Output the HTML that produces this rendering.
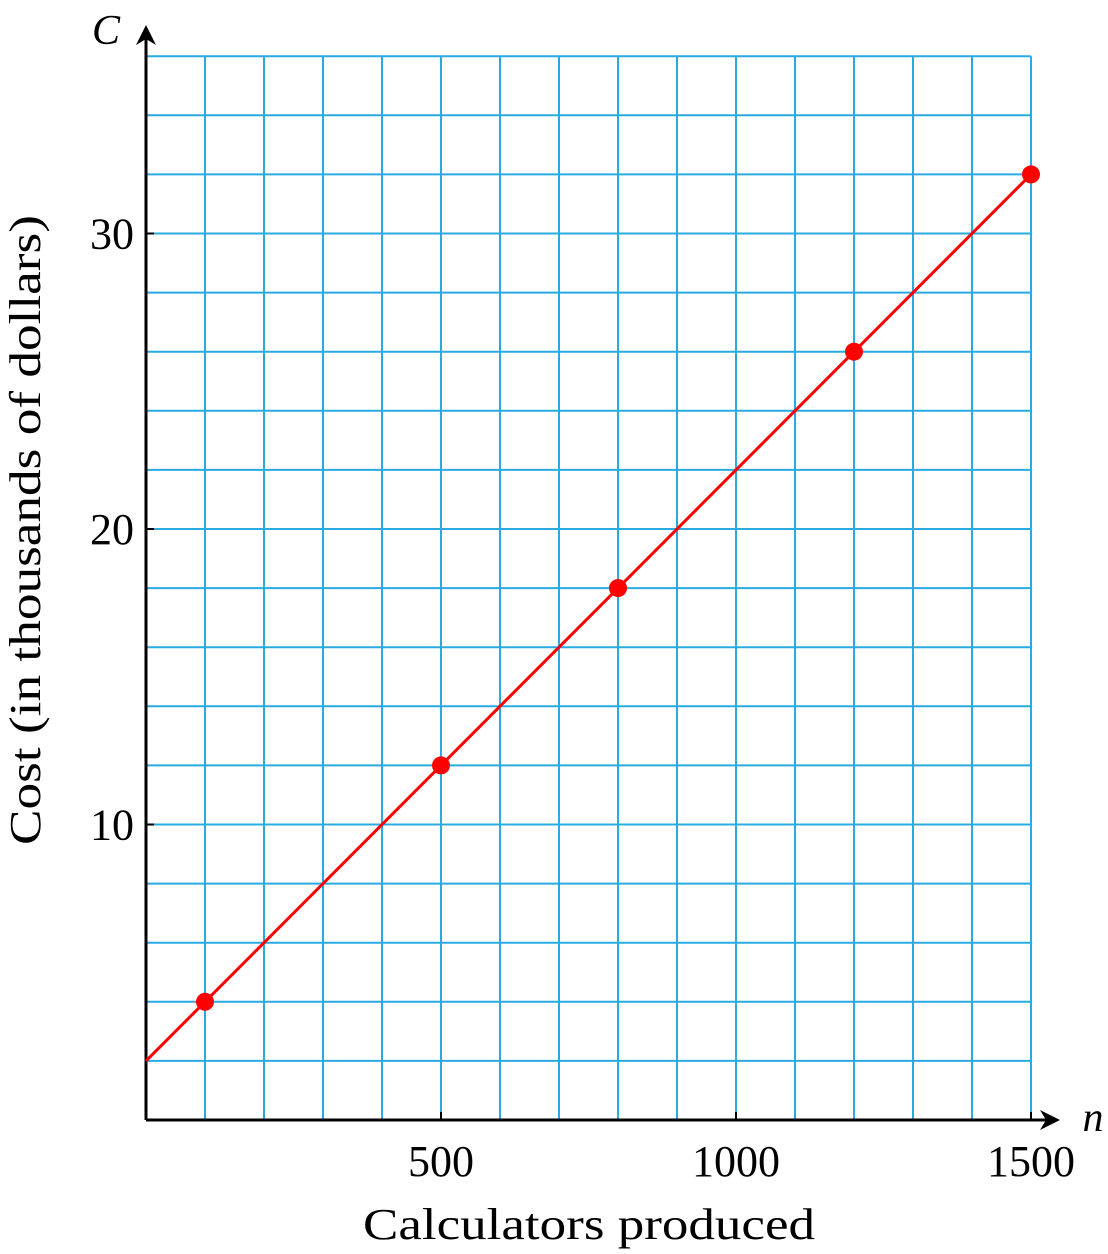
<!DOCTYPE html>
<html><head><meta charset="utf-8"><style>
html,body{margin:0;padding:0;background:#fff;}
svg{display:block;font-family:"Liberation Serif",serif;}
</style></head><body>
<svg id="chart" width="1108" height="1254" viewBox="0 0 1108 1254" xmlns="http://www.w3.org/2000/svg">
<g id="grid"></g>
<g id="axes">
<line x1="146" y1="1120" x2="1055" y2="1120" stroke="#000" stroke-width="3"/>
<path d="M1040 1110 L1060 1120 L1040 1130 L1046 1120 Z" fill="#000"/>
<line x1="146" y1="1120" x2="146" y2="32" stroke="#000" stroke-width="3"/>
<path d="M136 45 L146 25 L156 45 L146 39 Z" fill="#000"/>
<text x="106" y="44" font-size="42" font-style="italic" text-anchor="middle">C</text>
<text x="1093" y="1131" font-size="42" font-style="italic" text-anchor="middle">n</text>
<text x="363" y="1239" font-size="44" textLength="452" lengthAdjust="spacingAndGlyphs">Calculators produced</text>
<text transform="translate(40 845) rotate(-90)" font-size="44" textLength="630" lengthAdjust="spacingAndGlyphs">Cost (in thousands of dollars)</text>
</g>
<g id="ticks"></g>
<g id="series"></g>
</svg>
<script>
const xTicks=[500,1000,1500];
const yTicks=[10,20,30];
const pointsN=[100,500,800,1200,1500];
const pointsC=[4,12,18,26,32];
const lineN=[0,1500];
const lineC=[2,32];
const NS="http://www.w3.org/2000/svg";
const X0=146,Y0=1120,XS=295/500,YS=295.5/10;
const sx=n=>X0+n*XS, sy=c=>Y0-c*YS;
function mk(tag,attrs,parent){const e=document.createElementNS(NS,tag);for(const k in attrs)e.setAttribute(k,attrs[k]);parent.appendChild(e);return e;}
const grid=document.getElementById('grid');
for(let n=100;n<=1500;n+=100){const l=mk('line',{x1:sx(n),y1:sy(0),x2:sx(n),y2:sy(36),stroke:'#29abe2','stroke-width':2},grid);

}
for(let c=2;c<=36;c+=2){const l=mk('line',{x1:sx(0),y1:sy(c),x2:sx(1500),y2:sy(c),stroke:'#29abe2','stroke-width':2},grid);

}
const ticks=document.getElementById('ticks');
xTicks.forEach(v=>{mk('line',{x1:sx(v),y1:Y0,x2:sx(v),y2:Y0-8,stroke:'#000','stroke-width':2},ticks);
const t=mk('text',{x:sx(v),y:Y0+56,'font-size':44,'text-anchor':'middle'},ticks);t.textContent=v;

});
yTicks.forEach(v=>{mk('line',{x1:X0,y1:sy(v),x2:X0+8,y2:sy(v),stroke:'#000','stroke-width':2},ticks);
const t=mk('text',{x:X0-12,y:sy(v)+15,'font-size':44,'text-anchor':'end'},ticks);t.textContent=v;

});
const s=document.getElementById('series');
const ln=mk('line',{x1:sx(lineN[0]),y1:sy(lineC[0]),x2:sx(lineN[1]),y2:sy(lineC[1]),stroke:'#f00','stroke-width':3},s);


pointsN.forEach((n,i)=>{const p=mk('circle',{cx:sx(n),cy:sy(pointsC[i]),r:9,fill:'#f00'},s);

});
</script>
</body></html>
